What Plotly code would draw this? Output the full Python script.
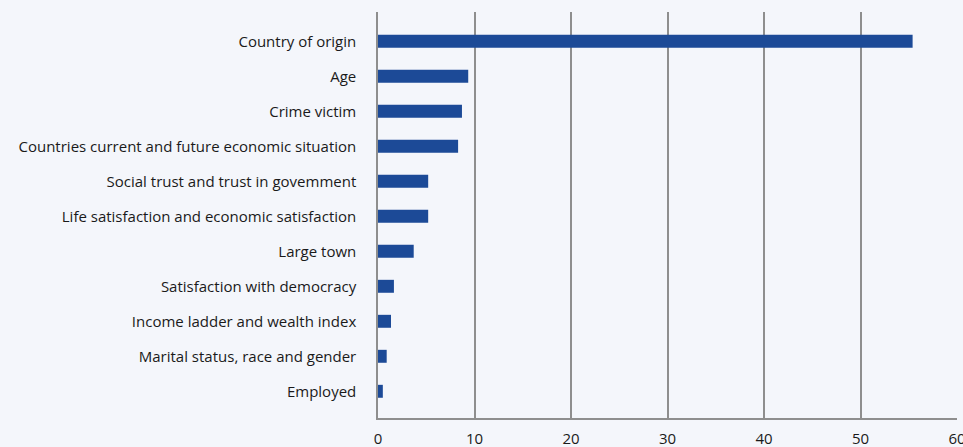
import plotly.graph_objects as go

# factors, top to bottom as shown
factors = [
    "Country of origin",
    "Age",
    "Crime victim",
    "Countries current and future economic situation",
    "Social trust and trust in govemment",
    "Life satisfaction and economic satisfaction",
    "Large town",
    "Satisfaction with democracy",
    "Income ladder and wealth index",
    "Marital status, race and gender",
    "Employed",
]
shares = [55.4, 9.35, 8.7, 8.3, 5.2, 5.2, 3.7, 1.65, 1.35, 0.9, 0.5]
x_ticks = [0, 10, 20, 30, 40, 50, 60]

BG = "#f4f6fb"
BAR = "#1c4a97"
GRID = "#8e8e8e"

fig = go.Figure()
fig.add_trace(go.Bar(
    y=factors[::-1],
    x=shares[::-1],
    orientation="h",
    width=0.37,
    marker=dict(color=BAR, line=dict(width=0)),
    hoverinfo="x+y",
))

fig.update_layout(
    width=963, height=447,
    paper_bgcolor=BG, plot_bgcolor=BG,
    margin=dict(l=378, r=6, t=12, b=29, autoexpand=False),
    showlegend=False,
    font=dict(family="Open Sans, Lato, sans-serif", size=15, color="#1a1a1a"),
)
fig.update_xaxes(
    range=[0, 60], tickvals=x_ticks,
    showgrid=True, gridcolor=GRID, gridwidth=1.5,
    zeroline=False,
    showline=True, linecolor=GRID, linewidth=1.5,
    ticks="outside", ticklen=6, tickcolor="rgba(0,0,0,0)",
    tickfont=dict(size=15),
    ticklabeloverflow="allow",
    automargin=False,
    fixedrange=True,
)
fig.update_yaxes(
    type="category", categoryorder="array", categoryarray=factors[::-1],
    range=[-0.763, 10.837],
    showgrid=False, zeroline=False,
    showline=True, linecolor=GRID, linewidth=1.5,
    ticks="outside", ticklen=17, tickcolor="rgba(0,0,0,0)",
    automargin=False,
    fixedrange=True,
)

fig.write_html(
    "out.html",
    config={"displayModeBar": False},
    post_script="document.body.style.margin='0';document.body.style.background='%s';" % BG,
)
